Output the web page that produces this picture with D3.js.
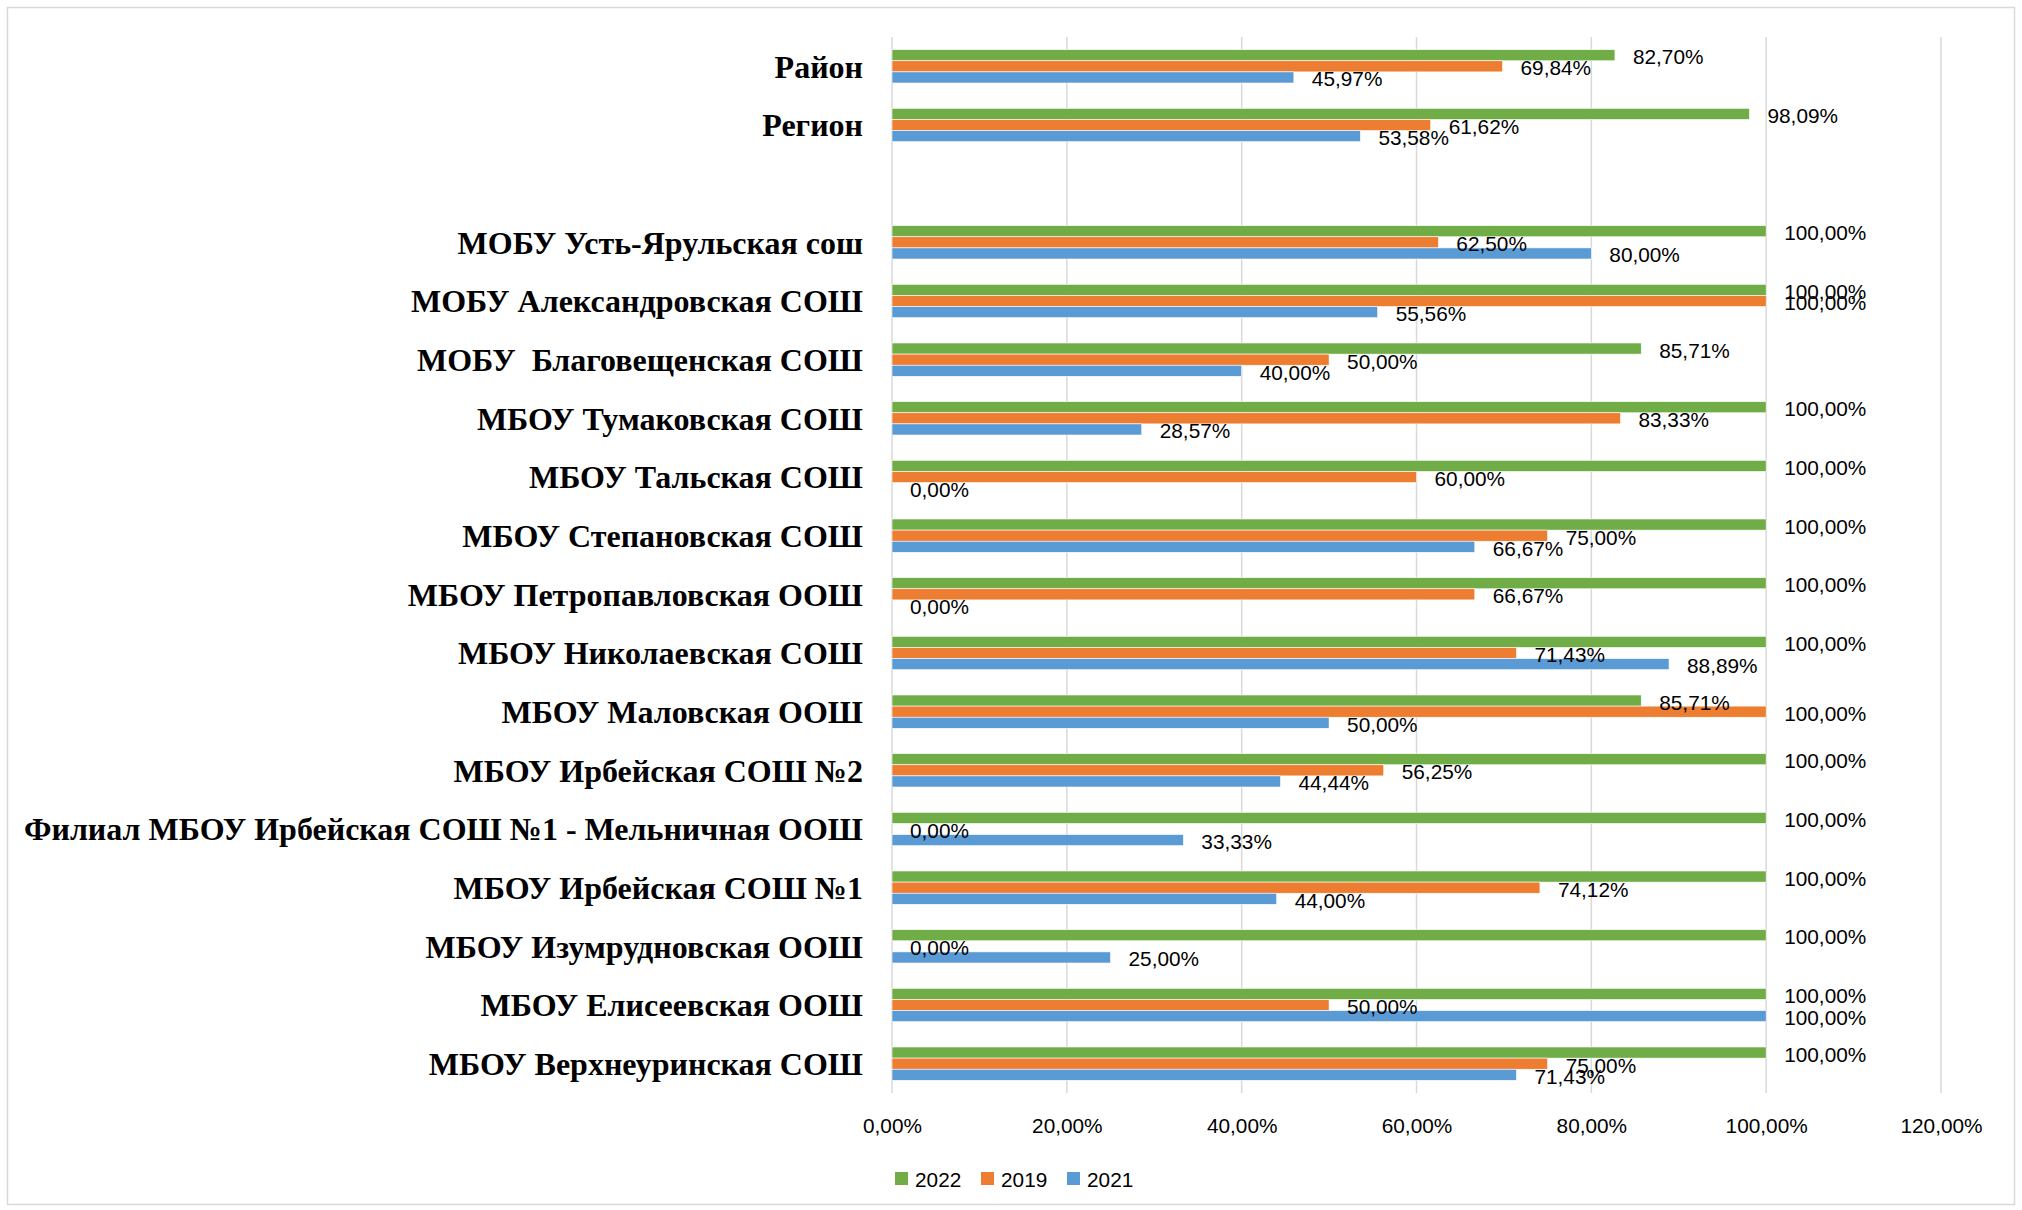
<!DOCTYPE html>
<html><head><meta charset="utf-8">
<script src="https://cdn.jsdelivr.net/npm/d3@7"></script>
<style>body{margin:0;background:#fff}svg{display:block}</style>
</head><body>
<svg id="chart" width="2022" height="1210"></svg>
<script>
const categories = [
  "Район","Регион","",
  "МОБУ Усть-Ярульская сош","МОБУ Александровская СОШ","МОБУ  Благовещенская СОШ",
  "МБОУ Тумаковская СОШ","МБОУ Тальская СОШ","МБОУ Степановская СОШ",
  "МБОУ Петропавловская ООШ","МБОУ Николаевская СОШ","МБОУ Маловская ООШ",
  "МБОУ Ирбейская СОШ №2","Филиал МБОУ Ирбейская СОШ №1 - Мельничная ООШ",
  "МБОУ Ирбейская СОШ №1","МБОУ Изумрудновская ООШ","МБОУ Елисеевская ООШ",
  "МБОУ Верхнеуринская СОШ"
];
const values2022 = [82.70,98.09,null,100,100,85.71,100,100,100,100,100,85.71,100,100,100,100,100,100];
const values2019 = [69.84,61.62,null,62.50,100,50.00,83.33,60.00,75.00,66.67,71.43,100,56.25,0,74.12,0,50.00,75.00];
const values2021 = [45.97,53.58,null,80.00,55.56,40.00,28.57,0,66.67,0,88.89,50.00,44.44,33.33,44.00,25.00,100,71.43];
const seriesNames = ["2022","2019","2021"];
const seriesColors = ["#70AD47","#ED7D31","#5B9BD5"];
const xTicks = [0,20,40,60,80,100,120];

const series = [values2022, values2019, values2021];
const svg = d3.select("#chart");
const W = 2022, H = 1210;
const plot = {left:892, right:1941, top:37, bottom:1093};

svg.append("rect").attr("x",7.5).attr("y",7.5).attr("width",W-15).attr("height",H-13)
  .attr("fill","#fff").attr("stroke","#d9d9d9").attr("stroke-width",1.5);

const x = d3.scaleLinear().domain([0,120]).range([plot.left, plot.right]);
const y = d3.scaleBand().domain(d3.range(categories.length)).range([plot.top, plot.bottom]).paddingInner(0).paddingOuter(0);
const bw = y.bandwidth()/(3+2.28);
const inner = d3.scaleBand().domain(d3.range(3)).range([0, bw*3]);
const offset = (y.bandwidth()-bw*3)/2;

const fmt = v => v.toFixed(2).replace(".", ",") + "%";
const labelFont = "'Liberation Sans', Arial, sans-serif";
const labelSize = "20.8px";

// gridlines
svg.append("g").selectAll("line").data(xTicks).join("line")
  .attr("x1",d=>x(d)).attr("x2",d=>x(d)).attr("y1",plot.top).attr("y2",plot.bottom)
  .attr("stroke","#d9d9d9").attr("stroke-width",1.5);

// x axis labels
const xAxis = d3.axisBottom(x).tickValues(xTicks).tickSize(0).tickFormat(fmt);
const gx = svg.append("g").attr("transform",`translate(0,${plot.bottom})`).call(xAxis);
gx.select(".domain").remove();
gx.selectAll("text").attr("y",32).attr("dy","0")
  .style("font-family",labelFont).style("font-size",labelSize).attr("fill","#000")
  .attr("dominant-baseline","central");

// category labels
const yAxis = d3.axisLeft(y).tickSize(0).tickFormat(i=>categories[i]);
const gy = svg.append("g").attr("transform",`translate(${plot.left-29},0)`).call(yAxis);
gy.select(".domain").remove();
gy.selectAll("text").attr("x",0).attr("dy","0.35em")
  .style("font-family","'Liberation Serif','Times New Roman',serif")
  .style("font-size","32px").style("font-weight","bold").attr("fill","#000")
  .style("white-space","pre").attr("xml:space","preserve");

// bars
const barLayer = svg.append("g");
const labelLayer = svg.append("g");
series.forEach((vals, si) => {
  const data = vals.map((v,i)=>({v,i})).filter(d=>d.v!==null);
  barLayer.append("g").selectAll("rect").data(data).join("rect")
    .attr("x",x(0)).attr("y",d=>y(d.i)+offset+inner(si))
    .attr("width",d=>x(d.v)-x(0)).attr("height",bw)
    .attr("fill",seriesColors[si]).attr("stroke","#fff").attr("stroke-width",0.6);
  labelLayer.append("g").selectAll("text").data(data).join("text")
    .attr("x",d=>x(d.v)+18).attr("y",d=>y(d.i)+offset+inner(si)+bw/2+1.5)
    .attr("dominant-baseline","central")
    .style("font-family",labelFont).style("font-size",labelSize).attr("fill","#000")
    .text(d=>fmt(d.v));
});

// legend
const legend = svg.append("g");
const legX = [895, 981, 1067];
seriesNames.forEach((n,i)=>{
  legend.append("rect").attr("x",legX[i]).attr("y",1172).attr("width",13).attr("height",13).attr("fill",seriesColors[i]);
  legend.append("text").attr("x",legX[i]+20).attr("y",1179).attr("dominant-baseline","central")
    .style("font-family",labelFont).style("font-size",labelSize).attr("fill","#000").text(n);
});
</script>
</body></html>
